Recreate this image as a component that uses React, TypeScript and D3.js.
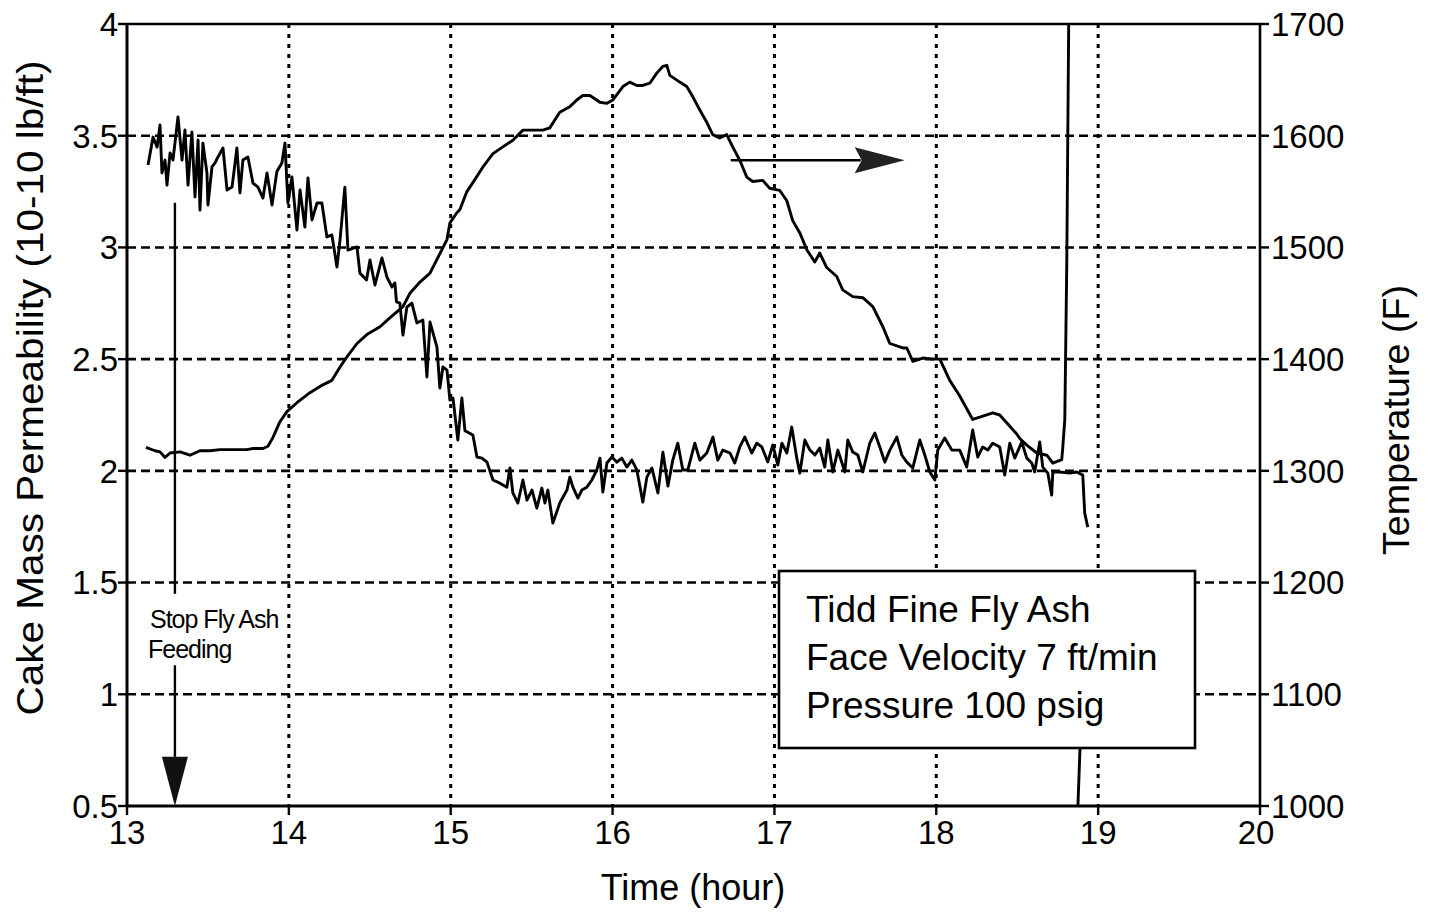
import React from "react";
import * as d3 from "d3";

// ---------- data ----------
const timeTicks = [13, 14, 15, 16, 17, 18, 19, 20];
const permTicks = [0.5, 1, 1.5, 2, 2.5, 3, 3.5, 4];
const permTickLabels = ["0.5", "1", "1.5", "2", "2.5", "3", "3.5", "4"];
const tempTicks = [1000, 1100, 1200, 1300, 1400, 1500, 1600, 1700];
const timeGrid = [14, 15, 16, 17, 18, 19];
const permGrid = [1, 1.5, 2, 2.5, 3, 3.5];

// cake mass permeability [time (h), permeability]
const permSeries: [number, number][] = [
  [13.130, 3.369], [13.161, 3.494], [13.186, 3.449], [13.204, 3.548], [13.216, 3.333],
  [13.235, 3.391], [13.247, 3.279], [13.266, 3.423], [13.284, 3.391], [13.315, 3.584],
  [13.340, 3.391], [13.358, 3.526], [13.377, 3.279], [13.401, 3.517], [13.420, 3.226],
  [13.439, 3.481], [13.451, 3.167], [13.469, 3.467], [13.494, 3.333], [13.500, 3.190],
  [13.525, 3.360], [13.544, 3.378], [13.562, 3.405], [13.593, 3.445], [13.618, 3.257],
  [13.649, 3.270], [13.679, 3.445], [13.698, 3.244], [13.716, 3.391], [13.747, 3.405],
  [13.778, 3.288], [13.809, 3.270], [13.840, 3.221], [13.865, 3.333], [13.896, 3.190],
  [13.926, 3.340], [13.957, 3.378], [13.976, 3.467], [13.994, 3.199], [14.019, 3.315],
  [14.050, 3.078], [14.069, 3.257], [14.099, 3.091], [14.118, 3.311], [14.143, 3.123],
  [14.174, 3.199], [14.204, 3.199], [14.235, 3.047], [14.266, 3.056], [14.297, 2.912],
  [14.316, 3.033], [14.346, 3.270], [14.365, 2.988], [14.421, 3.002], [14.439, 2.885],
  [14.480, 2.854], [14.501, 2.944], [14.532, 2.832], [14.575, 2.953], [14.606, 2.867],
  [14.637, 2.823], [14.655, 2.841], [14.665, 2.756], [14.686, 2.751], [14.705, 2.608],
  [14.729, 2.733], [14.760, 2.751], [14.791, 2.662], [14.828, 2.675], [14.853, 2.420],
  [14.872, 2.666], [14.915, 2.554], [14.933, 2.371], [14.952, 2.465], [14.977, 2.451],
  [14.995, 2.317], [15.014, 2.326], [15.044, 2.138], [15.069, 2.326], [15.088, 2.180],
  [15.137, 2.160], [15.162, 2.062], [15.193, 2.057], [15.224, 2.039], [15.261, 1.959],
  [15.304, 1.945], [15.347, 1.927], [15.366, 2.013], [15.384, 1.901], [15.415, 1.856],
  [15.446, 1.959], [15.471, 1.869], [15.502, 1.914], [15.532, 1.833], [15.563, 1.923],
  [15.582, 1.856], [15.600, 1.914], [15.631, 1.766], [15.674, 1.856], [15.718, 1.914],
  [15.736, 1.972], [15.755, 1.927], [15.786, 1.878], [15.810, 1.914], [15.841, 1.927],
  [15.872, 1.959], [15.903, 2.004], [15.922, 2.057], [15.940, 1.905], [15.965, 2.035],
  [15.996, 2.062], [16.027, 2.039], [16.057, 2.057], [16.088, 2.017], [16.119, 2.048],
  [16.150, 2.004], [16.187, 1.860], [16.212, 1.972], [16.243, 2.013], [16.280, 1.901],
  [16.311, 2.084], [16.342, 1.932], [16.372, 2.048], [16.403, 2.124], [16.434, 2.004],
  [16.465, 2.004], [16.508, 2.124], [16.539, 2.048], [16.582, 2.080], [16.620, 2.151],
  [16.650, 2.048], [16.681, 2.093], [16.725, 2.080], [16.755, 2.035], [16.786, 2.107],
  [16.817, 2.151], [16.860, 2.080], [16.891, 2.124], [16.922, 2.107], [16.959, 2.040],
  [16.990, 2.116], [17.021, 2.026], [17.046, 2.124], [17.077, 2.080], [17.107, 2.196],
  [17.138, 2.057], [17.157, 1.990], [17.188, 2.138], [17.219, 2.093], [17.250, 2.071],
  [17.280, 2.102], [17.311, 2.017], [17.330, 2.138], [17.361, 1.995], [17.392, 2.093],
  [17.435, 1.995], [17.453, 2.138], [17.484, 2.084], [17.515, 2.071], [17.546, 1.995],
  [17.589, 2.124], [17.620, 2.169], [17.651, 2.107], [17.682, 2.039], [17.713, 2.093],
  [17.756, 2.151], [17.787, 2.071], [17.818, 2.039], [17.855, 2.013], [17.898, 2.138],
  [17.929, 2.071], [17.960, 1.995], [17.991, 1.959], [18.009, 2.093], [18.052, 2.147],
  [18.096, 2.093], [18.145, 2.093], [18.188, 2.017], [18.225, 2.183], [18.256, 2.062],
  [18.287, 2.107], [18.318, 2.093], [18.349, 2.124], [18.392, 2.107], [18.423, 1.981],
  [18.454, 2.124], [18.485, 2.057], [18.528, 2.129], [18.559, 2.057], [18.590, 2.035],
  [18.608, 1.995], [18.639, 2.129], [18.658, 2.017], [18.689, 1.990], [18.713, 1.892],
  [18.720, 1.995], [18.763, 1.995], [18.825, 1.990], [18.868, 1.995], [18.905, 1.981],
  [18.917, 1.811], [18.936, 1.748],
];
const permTail: [number, number][] = [[18.92, 1.40], [18.875, 0.5]];

// temperature [time (h), deg F]
const tempSeries: [number, number][] = [
  [13.117, 1321], [13.173, 1318], [13.204, 1317], [13.235, 1312], [13.266, 1316],
  [13.328, 1317], [13.389, 1314], [13.451, 1318], [13.513, 1318], [13.574, 1319],
  [13.741, 1319], [13.778, 1320], [13.840, 1320], [13.871, 1322], [13.902, 1330],
  [13.945, 1344], [13.988, 1353], [14.050, 1361], [14.130, 1370], [14.210, 1377],
  [14.266, 1381], [14.316, 1393], [14.359, 1402], [14.421, 1414], [14.482, 1422],
  [14.563, 1429], [14.624, 1437], [14.705, 1447], [14.748, 1459], [14.810, 1469],
  [14.872, 1477], [14.921, 1491], [14.977, 1507], [14.995, 1522], [15.038, 1531],
  [15.057, 1534], [15.100, 1550], [15.137, 1558], [15.199, 1572], [15.261, 1584],
  [15.322, 1590], [15.384, 1596], [15.446, 1605], [15.508, 1605], [15.569, 1605],
  [15.612, 1607], [15.674, 1621], [15.736, 1626], [15.779, 1632], [15.816, 1636],
  [15.860, 1636], [15.922, 1630], [15.965, 1629], [16.002, 1632], [16.064, 1644],
  [16.106, 1648], [16.150, 1645], [16.187, 1645], [16.230, 1647], [16.273, 1656],
  [16.310, 1662], [16.335, 1663], [16.354, 1654], [16.415, 1648], [16.458, 1644],
  [16.495, 1635], [16.539, 1623], [16.582, 1612], [16.619, 1601], [16.662, 1598],
  [16.705, 1601], [16.742, 1590], [16.786, 1578], [16.829, 1563], [16.866, 1559],
  [16.928, 1560], [16.971, 1553], [17.033, 1551], [17.076, 1542], [17.113, 1524],
  [17.157, 1513], [17.200, 1498], [17.249, 1487], [17.280, 1495], [17.323, 1482],
  [17.385, 1474], [17.422, 1462], [17.484, 1456], [17.546, 1455], [17.608, 1447],
  [17.670, 1429], [17.713, 1414], [17.793, 1410], [17.818, 1410], [17.855, 1398],
  [17.917, 1401], [17.978, 1400], [18.022, 1400], [18.083, 1381], [18.145, 1367],
  [18.225, 1346], [18.269, 1348], [18.349, 1352], [18.392, 1350], [18.435, 1343],
  [18.497, 1333], [18.516, 1329], [18.559, 1323], [18.621, 1316], [18.683, 1314],
  [18.720, 1307], [18.775, 1310], [18.781, 1320], [18.794, 1346], [18.806, 1483],
  [18.818, 1700],
];

// annotations (data units)
const stopTime = 13.296;
const stopLine = [3.2, 1.45];
const stopArrow = [1.13, 0.5];
const stopHeadStart = 0.72;
const tempArrowLevel = 1578;
const tempArrowTime = [16.73, 17.805];
const tempArrowHeadStart = 17.496;

const boxLines = ["Tidd Fine Fly Ash", "Face Velocity 7 ft/min", "Pressure 100 psig"];
const stopLabel = ["Stop Fly Ash", "Feeding"];

// ---------- layout ----------
const W = 1430;
const H = 913;
const L = 127, R = 1260, T = 24, B = 806;
const FONT = "'Liberation Sans', Arial, Helvetica, sans-serif";

export default function App() {
  const x = d3.scaleLinear().domain([13, 20]).range([L, R]);
  const yL = d3.scaleLinear().domain([0.5, 4]).range([B, T]);
  const yR = d3.scaleLinear().domain([1000, 1700]).range([B, T]);

  const permLine = d3.line<[number, number]>().x((d) => x(d[0])).y((d) => yL(d[1]));
  const tempLine = d3.line<[number, number]>().x((d) => x(d[0])).y((d) => yR(d[1]));

  const sx = x(stopTime);
  const headTop = yL(stopHeadStart);
  const headTip = yL(stopArrow[1]);
  const ay = yR(tempArrowLevel);
  const ax0 = x(tempArrowTime[0]);
  const ax1 = x(tempArrowTime[1]);
  const ah = x(tempArrowHeadStart);

  return (
    <div style={{ position: "absolute", left: 0, top: 0 }}>
      <svg width={W} height={H} style={{ display: "block", background: "#fff" }} fontFamily={FONT}>
        <defs>
          <clipPath id="plotClip">
            <rect x={L} y={T} width={R - L} height={B - T} />
          </clipPath>
        </defs>
        <rect x={0} y={0} width={W} height={H} fill="#fff" />

        {/* grid */}
        {permGrid.map((v) => (
          <line key={"hg" + v} x1={L} x2={R} y1={yL(v)} y2={yL(v)} stroke="#000" strokeWidth={2.6} strokeDasharray="9 5" />
        ))}
        {timeGrid.map((v) => (
          <line key={"vg" + v} x1={x(v)} x2={x(v)} y1={T} y2={B} stroke="#000" strokeWidth={3} strokeDasharray="4 6" />
        ))}

        {/* data */}
        <g clipPath="url(#plotClip)" fill="none" stroke="#000" strokeWidth={2.9} strokeLinejoin="round">
          <path d={tempLine(tempSeries) || ""} />
          <path d={permLine(permSeries) || ""} />
          <path d={permLine(permTail) || ""} />
        </g>

        {/* stop feeding annotation */}
        <line x1={sx} x2={sx} y1={yL(stopLine[0])} y2={yL(stopLine[1])} stroke="#000" strokeWidth={2.4} />
        <line x1={sx} x2={sx} y1={yL(stopArrow[0])} y2={headTop} stroke="#000" strokeWidth={2.4} />
        <polygon points={`${sx - 13},${headTop} ${sx + 13},${headTop} ${sx},${headTip}`} fill="#111" />
        <text x={150} y={628} fontSize={25} letterSpacing={-1}>{stopLabel[0]}</text>
        <text x={148} y={658} fontSize={25} letterSpacing={-1}>{stopLabel[1]}</text>

        {/* temperature arrow */}
        <line x1={ax0} x2={ah + 6} y1={ay} y2={ay} stroke="#000" strokeWidth={2.4} />
        <polygon points={`${ah},${ay - 13} ${ax1},${ay} ${ah},${ay + 13} ${ah + 7},${ay}`} fill="#222" />

        {/* info box */}
        <rect x={779} y={571} width={416} height={177} fill="#fff" stroke="#000" strokeWidth={2.6} />
        {boxLines.map((s, i) => (
          <text key={s} x={806} y={622 + i * 48} fontSize={37}>{s}</text>
        ))}

        {/* frame */}
        <line x1={L} x2={R} y1={T} y2={T} stroke="#000" strokeWidth={2.6} />
        <line x1={R} x2={R} y1={T} y2={B} stroke="#000" strokeWidth={2.6} />
        <line x1={L} x2={L} y1={T} y2={B + 1} stroke="#000" strokeWidth={3} />
        <line x1={L - 1} x2={R} y1={B} y2={B} stroke="#000" strokeWidth={3.2} />

        {/* left axis */}
        {permTicks.map((v, i) => (
          <g key={"lt" + v}>
            <line x1={L - 9} x2={L} y1={yL(v)} y2={yL(v)} stroke="#000" strokeWidth={2.4} />
            <text x={L - 9} y={yL(v)} dy="0.36em" textAnchor="end" fontSize={33}>{permTickLabels[i]}</text>
          </g>
        ))}
        {/* bottom axis */}
        {timeTicks.map((v) => (
          <g key={"bt" + v}>
            <line x1={x(v)} x2={x(v)} y1={B} y2={B + 9} stroke="#000" strokeWidth={2.4} />
            <text x={x(v) + (v === 20 ? -4 : 0)} y={844} textAnchor="middle" fontSize={33}>{v}</text>
          </g>
        ))}
        {/* right axis */}
        {tempTicks.map((v) => (
          <g key={"rt" + v}>
            <line x1={R} x2={R + 9} y1={yR(v)} y2={yR(v)} stroke="#000" strokeWidth={2.4} />
            <text x={R + 11} y={yR(v)} dy="0.36em" textAnchor="start" fontSize={33}>{v}</text>
          </g>
        ))}

        {/* axis titles */}
        <text x={693} y={900} textAnchor="middle" fontSize={36}>Time (hour)</text>
        <text
          transform={`translate(43, 388) rotate(-90)`}
          textAnchor="middle"
          fontSize={36}
          textLength={655}
          lengthAdjust="spacingAndGlyphs"
        >
          Cake Mass Permeability (10-10 lb/ft)
        </text>
        <text
          transform={`translate(1409, 420) rotate(-90)`}
          textAnchor="middle"
          fontSize={36}
          textLength={270}
          lengthAdjust="spacingAndGlyphs"
        >
          Temperature (F)
        </text>
      </svg>
    </div>
  );
}
